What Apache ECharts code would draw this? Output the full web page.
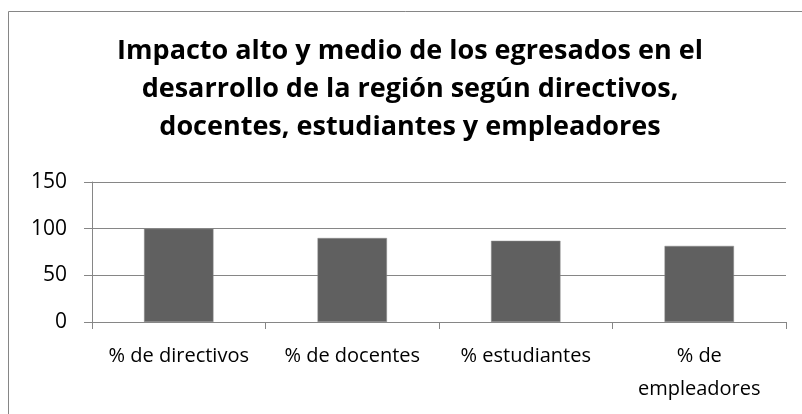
<!DOCTYPE html>
<html>
<head>
<meta charset="utf-8">
<script src="https://cdn.jsdelivr.net/npm/echarts@6/dist/echarts.min.js"></script>
<style>
  html, body { margin: 0; padding: 0; background: #fff; }
  #chart { width: 802px; height: 414px; }
</style>
</head>
<body>
<div id="chart"></div>
<script>
// datos
var categorias = ['% de directivos', '% de docentes', '% estudiantes', '% de\nempleadores'];
var porcentajes = [100, 90, 87, 81.5];
var ejeY = [0, 50, 100, 150];

var titulo = 'Impacto alto y medio de los egresados en el\ndesarrollo de la región según directivos,\ndocentes, estudiantes y empleadores';
var fuente = "'Open Sans', sans-serif";

var chart = echarts.init(document.getElementById('chart'));
var option = {
  animation: false,
  backgroundColor: '#fff',
  graphic: [{
    type: 'rect',
    shape: { x: 8.5, y: 11.5, width: 820, height: 420 },
    style: { fill: 'none', stroke: '#868686', lineWidth: 1 },
    silent: true
  }],
  title: {
    text: titulo,
    left: 410,
    top: 32,
    padding: 0,
    textAlign: 'center',
    textStyle: {
      fontFamily: fuente,
      fontWeight: 'bold',
      fontSize: 27,
      lineHeight: 38,
      color: '#000'
    }
  },
  grid: {
    left: 92,
    right: 16,
    top: 182,
    bottom: 92
  },
  xAxis: {
    type: 'category',
    data: categorias,
    axisLine: { lineStyle: { color: '#868686', width: 1 } },
    axisTick: { show: true, length: 7, alignWithLabel: false, lineStyle: { color: '#868686' } },
    axisLabel: {
      interval: 0,
      margin: 18,
      color: '#000',
      fontFamily: fuente,
      fontSize: 20,
      lineHeight: 33
    }
  },
  yAxis: {
    type: 'value',
    min: ejeY[0],
    max: ejeY[ejeY.length - 1],
    interval: 50,
    axisLine: { show: true, lineStyle: { color: '#868686', width: 1 } },
    axisTick: { show: true, length: 8, lineStyle: { color: '#868686' } },
    splitLine: { lineStyle: { color: '#868686', width: 1 } },
    axisLabel: {
      margin: 25,
      color: '#000',
      fontFamily: fuente,
      fontSize: 21
    }
  },
  series: [{
    type: 'bar',
    data: porcentajes,
    barWidth: '40%',
    itemStyle: { color: '#606060', borderColor: '#8a8a8a', borderWidth: 0.5 }
  }]
};
chart.setOption(option);
</script>
</body>
</html>
